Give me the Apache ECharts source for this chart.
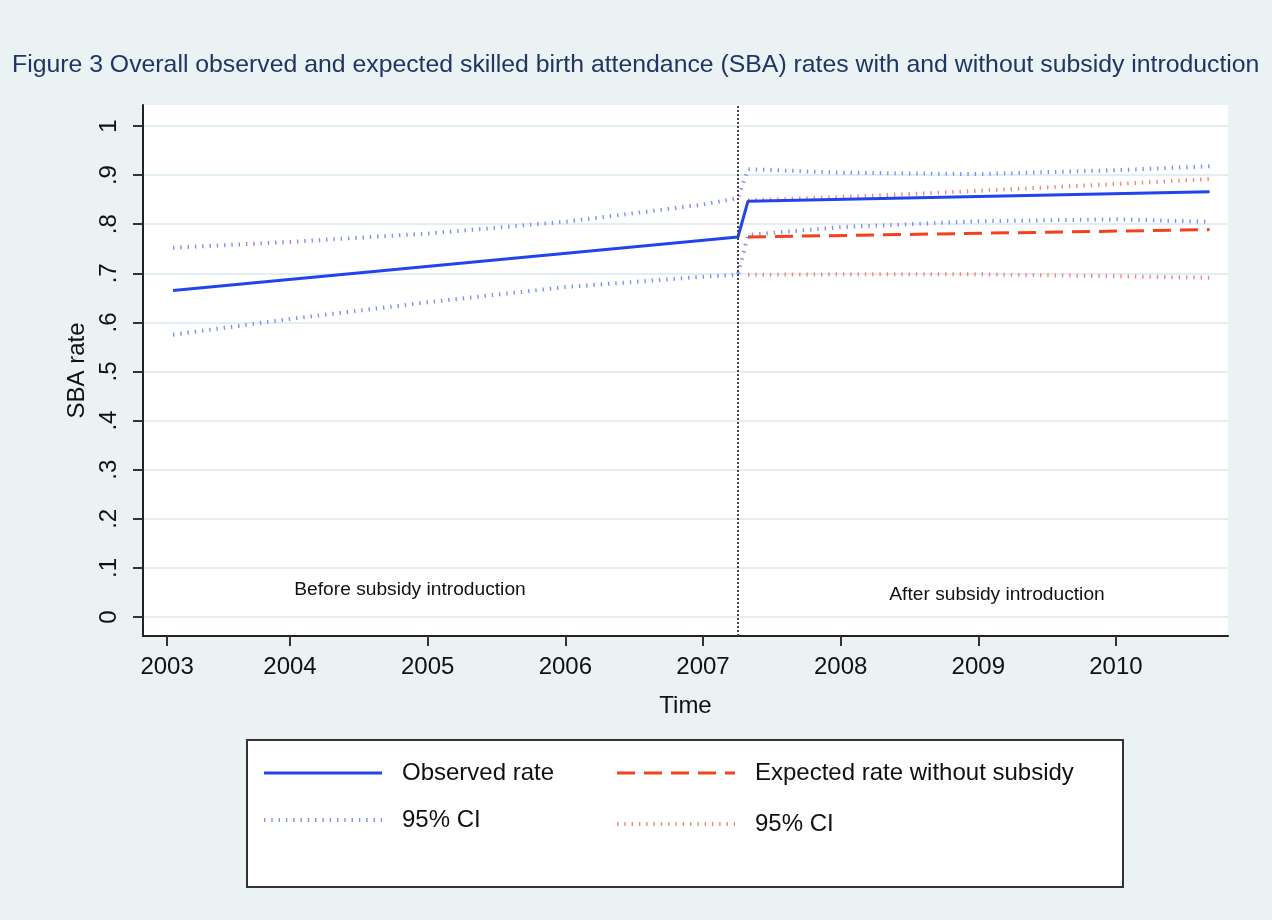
<!DOCTYPE html>
<html>
<head>
<meta charset="utf-8">
<script src="https://cdn.jsdelivr.net/npm/echarts@6/dist/echarts.min.js"></script>
<style>html,body{margin:0;padding:0;background:#eaf2f3;}#c{width:1272px;height:920px;}</style>
</head>
<body>
<div id="c"></div>
<script>
// ---- data ----
const obsX = [2003.15, 2007.254, 2007.327, 2010.68];
const obsY = [0.665, 0.774, 0.847, 0.866];
const obsUpX = [2003.15, 2004, 2005, 2006, 2007, 2007.254, 2007.327, 2008, 2009, 2010, 2010.68];
const obsUpY = [0.752, 0.764, 0.781, 0.805, 0.840, 0.853, 0.912, 0.905, 0.902, 0.910, 0.918];
const obsLoX = [2003.15, 2004, 2005, 2006, 2007, 2007.254, 2007.327, 2008, 2009, 2010, 2010.68];
const obsLoY = [0.575, 0.607, 0.641, 0.672, 0.693, 0.697, 0.778, 0.794, 0.806, 0.810, 0.805];
const expX = [2007.327, 2010.68];
const expY = [0.774, 0.789];
const expUpX = [2007.327, 2008, 2009, 2010, 2010.68];
const expUpY = [0.849, 0.855, 0.868, 0.882, 0.892];
const expLoX = [2007.327, 2008, 2009, 2010, 2010.68];
const expLoY = [0.697, 0.698, 0.698, 0.694, 0.691];
const breakX = 2007.254;
const xTickValues = [2003.107, 2004, 2005, 2006, 2007, 2008, 2009, 2010];
const xTickLabels = ['2003', '2004', '2005', '2006', '2007', '2008', '2009', '2010'];
const yTickValues = [0, 0.1, 0.2, 0.3, 0.4, 0.5, 0.6, 0.7, 0.8, 0.9, 1];
const yTickLabels = ['0', '.1', '.2', '.3', '.4', '.5', '.6', '.7', '.8', '.9', '1'];

const zip = (xs, ys) => xs.map((x, i) => [x, ys[i]]);
const FONT = "'Liberation Sans', Arial, Helvetica, sans-serif";
const tickStyle = (color) => ({ color: color, width: 4, type: [1.4, 5.9], cap: 'butt' });

const chart = echarts.init(document.getElementById('c'), null, { renderer: 'canvas' });
chart.setOption({
  backgroundColor: '#eaf2f3',
  animation: false,
  textStyle: { fontFamily: FONT },
  title: {
    text: 'Figure 3 Overall observed and expected skilled birth attendance (SBA) rates with and without subsidy introduction',
    left: 7, top: 48,
    textStyle: { fontFamily: FONT, fontSize: 24.8, fontWeight: 'normal', color: '#1f3564' }
  },
  grid: { left: 143, right: 44, top: 105, bottom: 284, show: true, backgroundColor: '#ffffff', borderWidth: 0 },
  xAxis: {
    type: 'value', min: 2002.932, max: 2010.814,
    name: 'Time', nameLocation: 'middle', nameGap: 58,
    nameTextStyle: { fontFamily: FONT, fontSize: 24, color: '#111' },
    axisLine: { show: true, onZero: false, lineStyle: { color: '#222', width: 2 } },
    axisTick: { show: true, length: 10, lineStyle: { color: '#333', width: 2 }, customValues: xTickValues },
    axisLabel: { fontFamily: FONT, fontSize: 24, color: '#111', margin: 19, customValues: xTickValues,
      formatter: (v) => { const i = xTickValues.findIndex(t => Math.abs(t - v) < 1e-6); return i >= 0 ? xTickLabels[i] : ''; } },
    splitLine: { show: false }
  },
  yAxis: {
    type: 'value', min: -0.0387, max: 1.0428,
    name: 'SBA rate', nameLocation: 'middle', nameGap: 47, nameRotate: 90,
    nameTextStyle: { fontFamily: FONT, fontSize: 24, color: '#111' },
    axisLine: { show: true, lineStyle: { color: '#222', width: 2 } },
    axisTick: { show: true, length: 10, lineStyle: { color: '#333', width: 2 }, customValues: yTickValues },
    axisLabel: { fontFamily: FONT, fontSize: 24, color: '#111', rotate: 90, margin: 22, customValues: yTickValues,
      formatter: (v) => { const i = yTickValues.findIndex(t => Math.abs(t - v) < 1e-6); return i >= 0 ? yTickLabels[i] : ''; } },
    splitLine: { show: true, lineStyle: { color: '#e3eef0', width: 2 } }
  },
  legend: [
    {
      left: 257, top: 756, orient: 'vertical', itemWidth: 118, itemHeight: 14, itemGap: 23,
      data: [
        { name: 'Observed rate', lineStyle: { width: 3 } },
        { name: 'Observed 95% CI', lineStyle: { width: 4 } }
      ],
      itemStyle: { opacity: 0 },
      formatter: (n) => n.indexOf('95% CI') >= 0 ? '95% CI' : n,
      textStyle: { fontFamily: FONT, fontSize: 24, color: '#111', padding: [0, 0, 0, 15] }
    },
    {
      left: 610, top: 756, orient: 'vertical', itemWidth: 118, itemHeight: 14, itemGap: 27,
      data: [
        { name: 'Expected rate without subsidy', lineStyle: { width: 3 } },
        { name: 'Expected 95% CI', lineStyle: { width: 4 } }
      ],
      itemStyle: { opacity: 0 },
      formatter: (n) => n.indexOf('95% CI') >= 0 ? '95% CI' : n,
      textStyle: { fontFamily: FONT, fontSize: 24, color: '#111', padding: [0, 0, 0, 15] }
    }
  ],
  graphic: [
    { type: 'rect', z: 0, shape: { x: 247, y: 740, width: 876, height: 147 },
      style: { fill: '#ffffff', stroke: '#333', lineWidth: 2 } },
    { type: 'text', z: 10, x: 410, y: 590,
      style: { text: 'Before subsidy introduction', fontFamily: FONT, fontSize: 19.2, fill: '#111', align: 'center', verticalAlign: 'middle' } },
    { type: 'text', z: 10, x: 997, y: 595,
      style: { text: 'After subsidy introduction', fontFamily: FONT, fontSize: 19.2, fill: '#111', align: 'center', verticalAlign: 'middle' } }
  ],
  series: [
    { name: 'Observed 95% CI', type: 'line', symbol: 'none', data: zip(obsUpX, obsUpY), lineStyle: tickStyle('#7f8ff2'), itemStyle: { color: '#7f8ff2' }, z: 2 },
    { name: 'Observed 95% CI', type: 'line', symbol: 'none', data: zip(obsLoX, obsLoY), lineStyle: tickStyle('#7f8ff2'), itemStyle: { color: '#7f8ff2' }, z: 2 },
    { name: 'Expected 95% CI', type: 'line', symbol: 'none', data: zip(expUpX, expUpY), lineStyle: tickStyle('#f0877a'), itemStyle: { color: '#f0877a' }, z: 2 },
    { name: 'Expected 95% CI', type: 'line', symbol: 'none', data: zip(expLoX, expLoY), lineStyle: tickStyle('#f0877a'), itemStyle: { color: '#f0877a' }, z: 2 },
    { name: 'Expected rate without subsidy', type: 'line', symbol: 'none', data: zip(expX, expY),
      lineStyle: { color: '#f4401f', width: 3, type: [18, 9] }, itemStyle: { color: '#f4401f' }, z: 3 },
    { name: 'Observed rate', type: 'line', symbol: 'none', data: zip(obsX, obsY),
      lineStyle: { color: '#2244ee', width: 3 }, itemStyle: { color: '#2244ee' }, z: 4,
      markLine: { silent: true, symbol: 'none', label: { show: false },
        lineStyle: { color: '#444', width: 2, type: [2, 2] },
        data: [{ xAxis: breakX }] } }
  ]
});
</script>
</body>
</html>
